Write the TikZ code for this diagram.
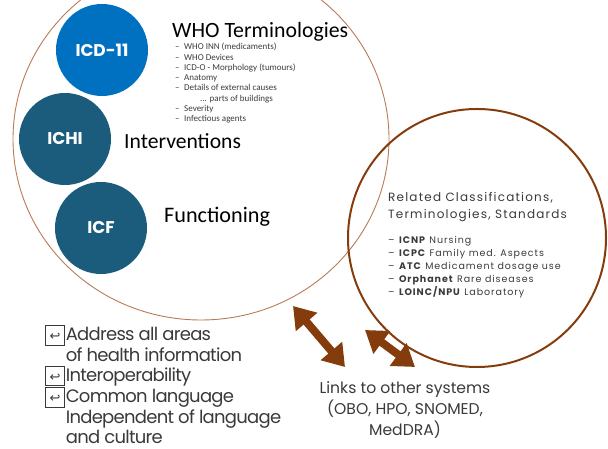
\documentclass[tikz,border=0pt]{standalone}
\usepackage{fontspec}
\setmainfont{Carlito}
\newfontfamily\geofont{Poppins}
\newfontfamily\geowide{Poppins}[LetterSpace=10]
\newfontfamily\geotight{Poppins}[LetterSpace=-4]
\newfontfamily\symfont{DejaVu Sans}
\usepackage{xcolor}
\usetikzlibrary{arrows.meta}
\definecolor{icdblue}{HTML}{0070C0}
\definecolor{whoteal}{HTML}{1B5C7C}
\definecolor{rust}{HTML}{843C0C}
\definecolor{ringbrown}{HTML}{B97A57}
\definecolor{txtgray}{HTML}{3A3A3A}
\newcommand{\chk}{{\setlength{\fboxsep}{0pt}\setlength{\fboxrule}{0.8pt}\fbox{\makebox[18pt]{\raisebox{0pt}[15pt][4pt]{\symfont\fontsize{13}{13}\selectfont ↩}}}\hspace{1pt}}}

\begin{document}
\begin{tikzpicture}[x=1pt, y=1pt,
    clsnode/.style={circle, fill=#1, minimum size=92pt, inner sep=0pt, text=white,
                    font=\geofont\bfseries\fontsize{17}{17}\selectfont},
    title/.style={anchor=west, inner sep=0pt, font=\fontsize{#1}{25}\selectfont},
    linkarrow/.style={rust, line width=8pt,
                      {Triangle[width=27pt,length=21pt]}-{Triangle[width=27pt,length=21pt]}}]
    \useasboundingbox (0,0) rectangle (608,449);

    \draw[ringbrown, line width=0.9pt] (201,310) ellipse [x radius=188, y radius=181];
    \draw[rust, line width=2pt] (477,211) circle [radius=129];

    \node[clsnode=icdblue] (icd)  at (102,399) {ICD-11};
    \node[clsnode=whoteal] (ichi) at (65,310)  {ICHI};
    \node[clsnode=whoteal] (icf)  at (101,221) {ICF};

    \node[title=21.8] (who)  at (172,417) {WHO Terminologies};
    \node[title=21.6] (intv) at (124,308) {Interventions};
    \node[title=22.2] (func) at (164,232) {Functioning};

    \node[anchor=north west, inner sep=0pt, align=left, text=txtgray,
          font=\fontsize{9}{10.3}\selectfont] (wholist) at (175,406)
        {\makebox[9pt][l]{–}WHO INN (medicaments)\\
         \makebox[9pt][l]{–}WHO Devices\\
         \makebox[9pt][l]{–}ICD-O - Morphology (tumours)\\
         \makebox[9pt][l]{–}Anatomy\\
         \makebox[9pt][l]{–}Details of external causes\\
         \hspace*{25pt}... parts of buildings\\
         \makebox[9pt][l]{–}Severity\\
         \makebox[9pt][l]{–}Infectious agents};

    \node[anchor=north west, inner sep=0pt, align=left, text=txtgray,
          font=\geowide\fontsize{12}{17}\selectfont] (rel) at (388,257)
        {Related Classifications,\\Terminologies, Standards};
    \node[anchor=north west, inner sep=0pt, align=left, text=txtgray,
          font=\geowide\fontsize{9.5}{12.9}\selectfont] (rellist) at (388,213)
        {– \textbf{ICNP} Nursing\\
         – \textbf{ICPC} Family med. Aspects\\
         – \textbf{ATC} Medicament dosage use\\
         – \textbf{Orphanet} Rare diseases\\
         – \textbf{LOINC/NPU} Laboratory};

    \node[anchor=north west, inner sep=0pt, align=left, text=txtgray,
          font=\geotight\fontsize{18}{20.2}\selectfont] (goals) at (45,124)
        {\chk Address all areas\\
         \hphantom{\chk}of health information\\
         \chk Interoperability\\
         \chk Common language\\
         \hphantom{\chk}Independent of language\\
         \hphantom{\chk}and culture};

    \node[align=center, inner sep=0pt, text=txtgray,
          font=\geofont\fontsize{15.6}{21}\selectfont] (links) at (405,39)
        {Links to other systems\\(OBO, HPO, SNOMED,\\MedDRA)};

    \coordinate (a1) at (293,143);
    \coordinate (b1) at (345,82);
    \coordinate (a2) at (365,119);
    \coordinate (b2) at (415,82);
    \draw[linkarrow] (a1) -- (b1);
    \draw[linkarrow] (a2) -- (b2);
\end{tikzpicture}
\end{document}
